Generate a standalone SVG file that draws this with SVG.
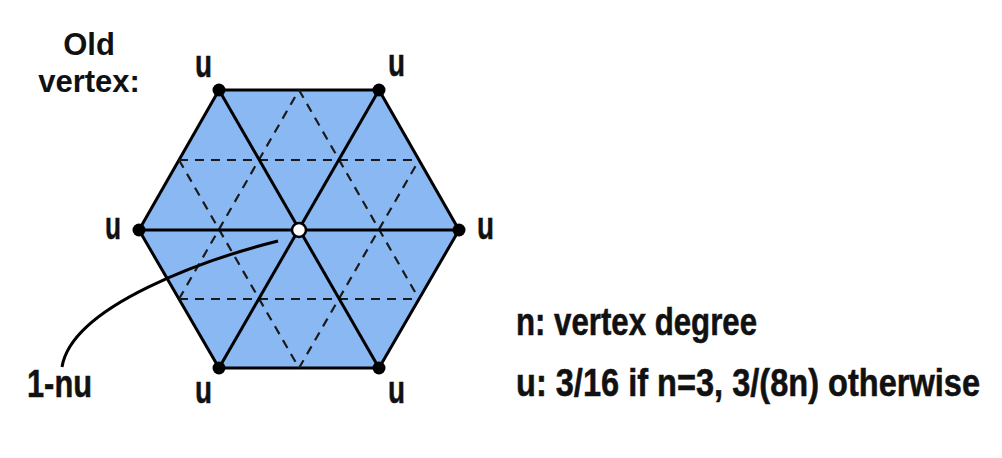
<svg xmlns="http://www.w3.org/2000/svg" width="1002" height="458" viewBox="0 0 1002 458">
<style>
.hex{fill:#8AB8F2;stroke:#000;stroke-width:3;stroke-linejoin:round}
.solid{stroke:#000;stroke-width:3;fill:none}
.dash{stroke:#1a1a1a;stroke-width:2.2;stroke-dasharray:9 7;fill:none}
.dot{fill:#000}
.c{font-family:"Liberation Sans",Arial,sans-serif;font-weight:bold;fill:#111;stroke:#111;stroke-width:0.5;font-size:38px}
.t{font-family:"Liberation Sans",Arial,sans-serif;font-weight:bold;fill:#111;stroke:#111;stroke-width:0.45;font-size:32px}
.h{font-family:"Liberation Sans",Arial,sans-serif;font-weight:bold;fill:#111;font-size:31px}
</style>
<rect width="1002" height="458" fill="#fff"/>
<g id="hexagon">
<polygon class="hex" points="219,90 379,90 459,230 379,368 219,368 139,230"/>
<g class="dash">
<line x1="179" y1="160" x2="419" y2="160"/>
<line x1="179" y1="299" x2="419" y2="299"/>
<line x1="179" y1="160" x2="299" y2="368"/>
<line x1="299" y1="90" x2="419" y2="299"/>
<line x1="179" y1="299" x2="299" y2="90"/>
<line x1="299" y1="368" x2="419" y2="160"/>
</g>
<g class="solid">
<line x1="139" y1="230" x2="459" y2="230"/>
<line x1="219" y1="90" x2="379" y2="368"/>
<line x1="379" y1="90" x2="219" y2="368"/>
</g>
</g>
<g id="vertices">
<circle class="dot" cx="219" cy="90" r="6.5"/>
<circle class="dot" cx="379" cy="90" r="6.5"/>
<circle class="dot" cx="459" cy="230" r="6.5"/>
<circle class="dot" cx="379" cy="368" r="6.5"/>
<circle class="dot" cx="219" cy="368" r="6.5"/>
<circle class="dot" cx="139" cy="230" r="6.5"/>
<circle cx="299" cy="230" r="7" fill="#fff" stroke="#000" stroke-width="2.5"/>
</g>
<g id="connectors">
<path class="solid" d="M278 241 C210 258 72 305 62 367"/>
</g>
<g id="labels">
<text class="h" x="89" y="55" text-anchor="middle">Old</text>
<text class="h" x="89" y="92" text-anchor="middle">vertex:</text>
<text class="c" font-size="36" x="195" y="77" textLength="17" lengthAdjust="spacingAndGlyphs">u</text>
<text class="c" font-size="36" x="388" y="76" textLength="17" lengthAdjust="spacingAndGlyphs">u</text>
<text class="c" font-size="36" x="105" y="239" textLength="16" lengthAdjust="spacingAndGlyphs">u</text>
<text class="c" font-size="36" x="477" y="239" textLength="17" lengthAdjust="spacingAndGlyphs">u</text>
<text class="c" font-size="36" x="195" y="403" textLength="17" lengthAdjust="spacingAndGlyphs">u</text>
<text class="c" font-size="36" x="388" y="403" textLength="17" lengthAdjust="spacingAndGlyphs">u</text>
<text class="c" x="27" y="397" textLength="65" lengthAdjust="spacingAndGlyphs">1-nu</text>
<text class="t" transform="translate(516,335) scale(1,1.19)" x="0" y="0" textLength="241" lengthAdjust="spacingAndGlyphs">n: vertex degree</text>
<text class="t" transform="translate(516,396) scale(1,1.19)" x="0" y="0" textLength="464" lengthAdjust="spacingAndGlyphs">u: 3/16 if n=3, 3/(8n) otherwise</text>
</g>
</svg>
